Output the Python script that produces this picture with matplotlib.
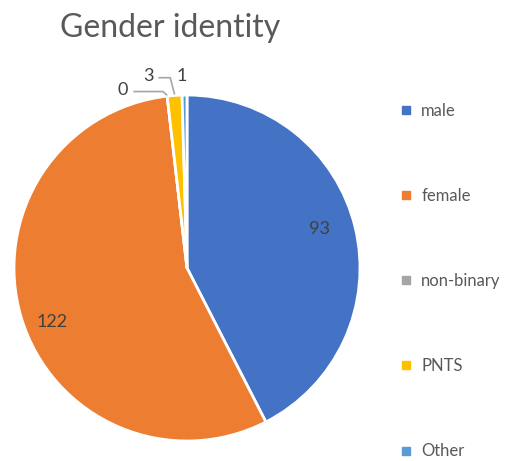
import numpy as np
import matplotlib
matplotlib.use("Agg")
import matplotlib.pyplot as plt
from matplotlib.lines import Line2D

# data
categories = ["male", "female", "non-binary", "PNTS", "Other"]
counts = [93, 122, 0, 3, 1]
colors = ["#4472C4", "#ED7D31", "#A5A5A5", "#FFC000", "#5B9BD5"]

plt.rcParams["font.family"] = ["Lato", "DejaVu Sans"]

fig = plt.figure(figsize=(5.27, 4.61), dpi=100)
fig.patch.set_facecolor("white")

# pie axes: centre ~ (187, 268) px, radius ~173 px
W, H = 527, 461
cx, cy, r = 187, 268, 173
ax = fig.add_axes([(cx - r) / W, (H - cy - r) / H, 2 * r / W, 2 * r / H])

wedges, _ = ax.pie(counts, colors=colors, startangle=90, counterclock=False,
                   radius=1.0, wedgeprops=dict(edgecolor="white", linewidth=2))
ax.set_xlim(-1, 1)
ax.set_ylim(-1, 1)
ax.set_aspect("equal")
ax.axis("off")

total = sum(counts)
label_color = "#404040"
line_color = "#A6A6A6"

# angles of each slice
ends = np.cumsum(counts)
starts = ends - np.array(counts)
mids = 90 - (starts + ends) / 2 / total * 360

# big slices: labels inside
for i, dist in [(0, 0.80), (1, 0.84)]:
    a = np.deg2rad(mids[i] + (5 if i == 1 else 3))
    ax.text(dist * np.cos(a), dist * np.sin(a), str(counts[i]),
            ha="center", va="center", fontsize=13, color=label_color)

# small slices: outside labels
small = {2: (-0.37, 1.03), 3: (-0.225, 1.11), 4: (-0.03, 1.11)}
for i, (tx, ty) in small.items():
    ax.text(tx, ty, str(counts[i]), ha="center", va="center",
            fontsize=13, color=label_color, clip_on=False)
    if i in (2, 3):
        a = np.deg2rad(mids[i])
        ex, ey = np.cos(a), np.sin(a)
        hx = ex - 0.025
        ax.plot([tx + 0.06, hx, ex], [ty - 0.01, ty - 0.01, ey + 0.005],
                color=line_color, lw=1.2, clip_on=False, solid_capstyle="butt")

fig.text(0.323, 0.94, "Gender identity", ha="center", va="center",
         fontsize=23, color="#595959")

handles = [Line2D([0], [0], marker="s", linestyle="none", markersize=6,
                  markerfacecolor=c, markeredgecolor=c) for c in colors]
leg = fig.legend(handles, categories, loc="center left",
                 bbox_to_anchor=(393 / W, 1 - 281 / H), frameon=False,
                 fontsize=12, labelspacing=4.15, handlelength=0.8,
                 handletextpad=0.5, borderaxespad=0)
for t in leg.get_texts():
    t.set_color("#595959")

fig.savefig("out.png", dpi=100, facecolor="white")
